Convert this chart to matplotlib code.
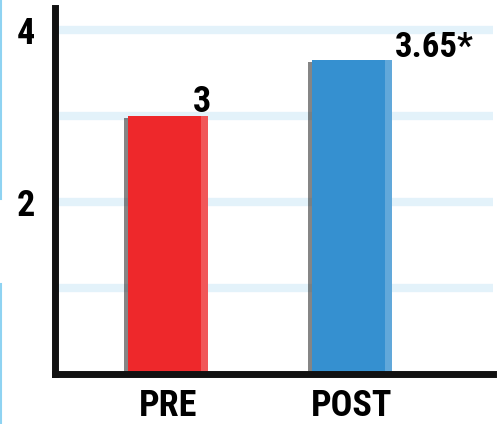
import matplotlib
matplotlib.use("Agg")
import matplotlib.pyplot as plt
import matplotlib.patheffects as pe
from matplotlib.lines import Line2D

# data
categories = ["PRE", "POST"]
values = [3, 3.65]
value_labels = ["3", "3.65*"]
bar_colors = ["#ee282b", "#3590d0"]
ytick_values = [2, 4]
grid_values = [1, 2, 3, 4]

plt.rcParams['font.family'] = ['Roboto Condensed', 'Roboto', 'DejaVu Sans']
plt.rcParams['font.weight'] = 'bold'

fig = plt.figure(figsize=(4.98, 4.24), dpi=100)
ax = fig.add_axes([0.110, 0.118, 0.880, 0.863])

x = list(range(len(categories)))
width = 0.435

# light blue gridlines behind the bars
for g in grid_values:
    ax.axhline(g, xmin=0.012, xmax=0.99, color="#e3f2fa", linewidth=6, zorder=0)

bars = ax.bar(x, values, width=width, color=bar_colors, zorder=2,
              path_effects=[pe.SimplePatchShadow(offset=(-2.5, -1), shadow_rgbFace="#222222", alpha=0.55),
                            pe.Normal()])

# lighter strip on the right edge of each bar
for xi, v in zip(x, values):
    ax.bar(xi + width / 2 - 0.02, v, width=0.04, color="white", alpha=0.22, zorder=3)

# value labels
ax.text(x[0] + width / 2 + 0.015, values[0] + 0.045, value_labels[0], ha="right", va="baseline",
        fontsize=26, fontweight="bold", zorder=4)
ax.text(x[1] + width / 2 + 0.015, values[1] + 0.045, value_labels[1], ha="left", va="baseline",
        fontsize=25, fontweight="bold", zorder=4)

ax.set_xlim(-0.614, 1.766)
ax.set_ylim(0, 4.26)
ax.set_xticks(x)
ax.set_xticklabels(categories, fontsize=26, fontweight="bold")
ax.set_yticks(ytick_values)
ax.set_yticklabels([str(t) for t in ytick_values], fontsize=26, fontweight="bold")
ax.tick_params(axis="both", length=0)
ax.tick_params(axis="x", pad=10)
ax.tick_params(axis="y", pad=14)

for side in ["top", "right"]:
    ax.spines[side].set_visible(False)
for side in ["left", "bottom"]:
    ax.spines[side].set_linewidth(5)
    ax.spines[side].set_color("#111111")
    ax.spines[side].set_zorder(5)

# thin light-blue line at the left edge of the image
fig.add_artist(Line2D([0.002, 0.002], [0.53, 1.0], color="#8fd3f2", linewidth=1.5))
fig.add_artist(Line2D([0.002, 0.002], [0.0, 0.33], color="#8fd3f2", linewidth=1.5))

fig.savefig("out.png", dpi=100)
